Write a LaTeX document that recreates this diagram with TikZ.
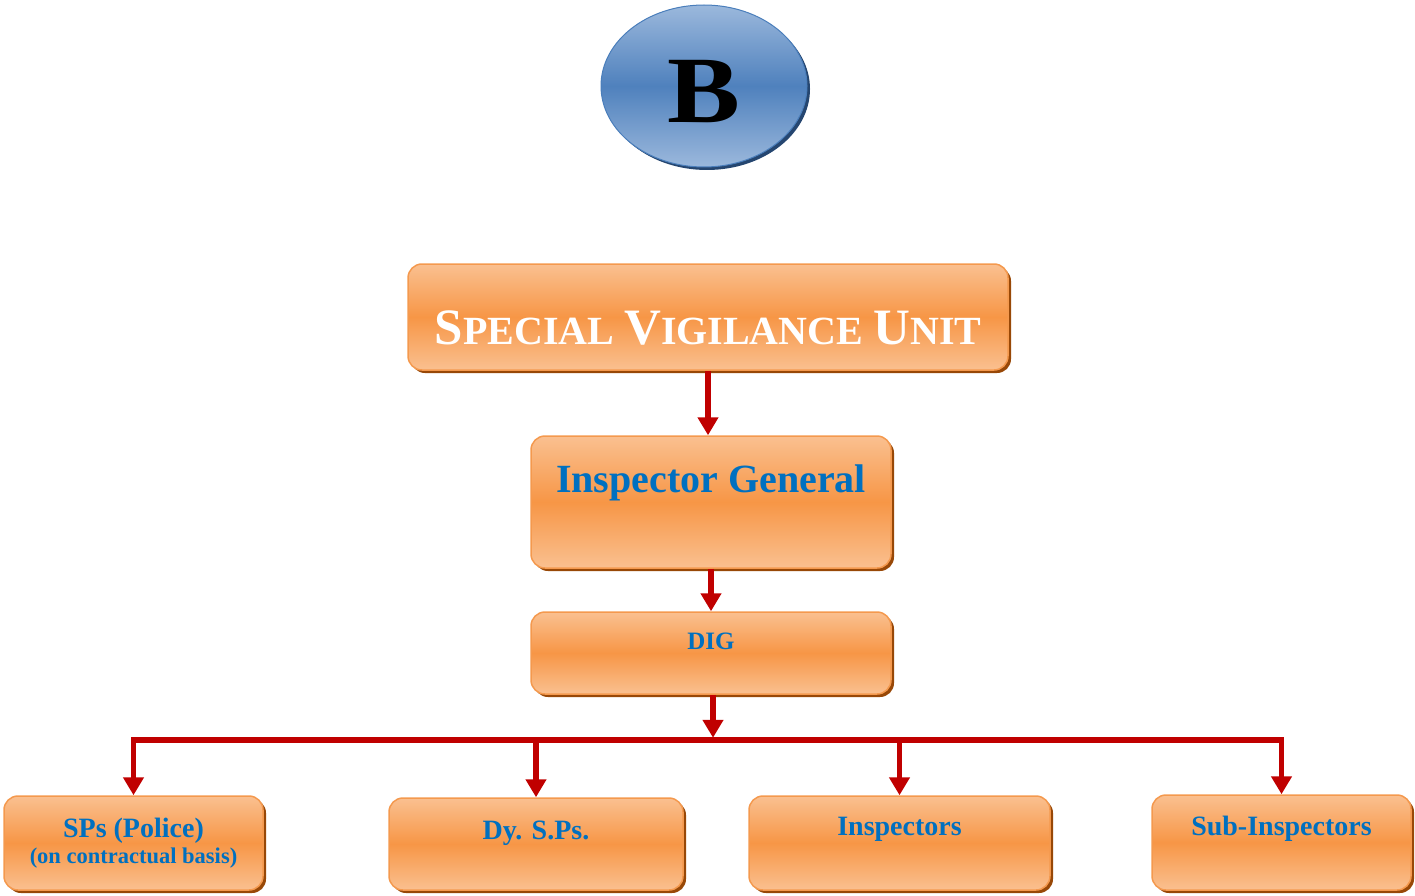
\documentclass[tikz,border=0pt]{standalone}
\usepackage{fontspec}
\setmainfont{Liberation Serif}
\usetikzlibrary{arrows.meta, shapes.geometric}
\definecolor{boxlight}{HTML}{FAC090}
\definecolor{boxmid}{HTML}{F79646}
\definecolor{boxedge}{HTML}{F4994E}
\definecolor{boxshade}{HTML}{984807}
\definecolor{rankblue}{HTML}{0070C0}
\definecolor{linkred}{HTML}{C00000}
\definecolor{ballmid}{HTML}{4F81BD}
\definecolor{balllight}{HTML}{9BB8DC}
\definecolor{balledge}{HTML}{4A7EBB}
\definecolor{ballshade}{HTML}{254670}
\newcommand{\unitcaps}[2]{{\fontsize{51}{51}\selectfont #1}{\fontsize{40}{40}\selectfont #2}}
\tikzset{
rankbox/.style={rectangle, rounded corners=14pt, draw=boxedge, line width=1.5pt,
  top color=boxlight, bottom color=boxlight, middle color=boxmid,
  preaction={fill=boxshade, transform canvas={xshift=3pt,yshift=-3pt}},
  text=rankblue, align=center, inner sep=0pt},
bottomrank/.style={rankbox, font=\fontsize{28}{30}\selectfont\bfseries, text height=20pt},
ball/.style={ellipse, draw=balledge, line width=1pt, minimum width=206pt, minimum height=162pt,
  top color=balllight, bottom color=balllight, middle color=ballmid,
  preaction={fill=ballshade, transform canvas={xshift=3pt,yshift=-3pt}},
  font=\fontsize{95}{95}\selectfont\bfseries, text height=74pt, text depth=0pt, inner sep=0pt},
link/.style={draw=linkred, line width=5.5pt},
linkto/.style={link, -{Triangle[length=18pt,width=20pt]}}
}
\begin{document}
\begin{tikzpicture}[x=1pt, y=-1pt]
\useasboundingbox (0,0) rectangle (1415,896);
\node[ball] (bmark) at (704,86) {\scalebox{1.15}[1]{B}};
\node[rankbox, minimum width=600pt, minimum height=106pt, text=white,
  font=\fontsize{40}{40}\selectfont\bfseries, text height=55pt, text depth=0pt] (svu) at (708,317)
  {\unitcaps{S}{PECIAL} \unitcaps{V}{IGILANCE} \unitcaps{U}{NIT}};
\node[rankbox, minimum width=360pt, minimum height=132pt,
  font=\fontsize{40}{45}\selectfont\bfseries, text height=28pt, text depth=48pt] (ig) at (711,502)
  {Inspector General};
\node[rankbox, minimum width=360pt, minimum height=82pt,
  font=\fontsize{25}{28}\selectfont\bfseries, text height=18pt, text depth=26pt] (dig) at (711,653)
  {DIG};
\node[rankbox, minimum width=259pt, minimum height=94pt,
  font=\fontsize{22.5}{26}\selectfont\bfseries] (sps) at (133.5,843)
  {{\fontsize{28}{26}\selectfont SPs (Police)}\\(on contractual basis)};
\node[bottomrank, minimum width=294pt, minimum height=92pt, text depth=30pt] (dysps) at (536,844)
  {Dy. S.Ps.};
\node[bottomrank, minimum width=301pt, minimum height=94pt, text depth=36pt] (insp) at (899.5,843)
  {Inspectors};
\node[bottomrank, minimum width=259pt, minimum height=95pt, text depth=35pt] (subinsp) at (1281.5,842.5)
  {Sub-Inspectors};
\draw[linkto] (svu.south) -- (svu.south |- ig.north);
\draw[linkto] (ig.south) -- (ig.south |- dig.north);
\coordinate (busline) at (0,740);
\coordinate (busjoin) at ([xshift=2pt,yshift=-43pt]dig.south);
\draw[linkto] (busjoin |- dig.south) -- (busjoin);
\draw[link, line cap=rect] (sps.north |- busline) -- (subinsp.north |- busline);
\foreach \n in {sps,dysps,insp,subinsp}
  \draw[linkto] (\n.north |- busline) -- (\n.north);
\end{tikzpicture}
\end{document}
